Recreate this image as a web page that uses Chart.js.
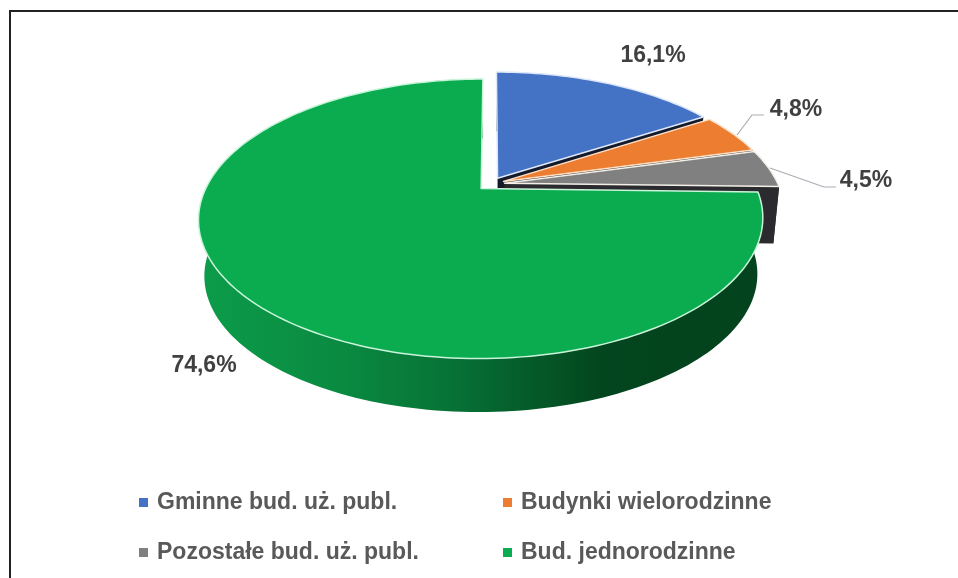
<!DOCTYPE html>
<html lang="pl">
<head>
<meta charset="utf-8">
<title>Struktura budynków</title>
<script src="https://cdn.jsdelivr.net/npm/chart.js@4/dist/chart.umd.min.js"></script>
<style>
    html, body { margin: 0; padding: 0; background: #fff; overflow: hidden; }
    #wrap { position: relative; width: 958px; height: 578px; }
    #frame { position: absolute; left: 9px; top: 10px; right: 0; bottom: 0;
             border-top: 2px solid #222; border-left: 2px solid #222; }
    canvas { position: absolute; left: 0; top: 0; }
</style>
</head>
<body>
<div id="wrap">
    <div id="frame"></div>
    <canvas id="pie" width="958" height="578"></canvas>
</div>
<script>
const categories = ['Gminne bud. uż. publ.', 'Budynki wielorodzinne', 'Pozostałe bud. uż. publ.', 'Bud. jednorodzinne'];
const shares = [16.1, 4.8, 4.5, 74.6];
const topColors = ['#4472c4', '#ed7d31', '#808080', '#0bac4f'];
const wallColors = ['#141a2a', '#2a1a10', '#2b2a2e', '#0a8a42'];
const rimColors = ['#dfe8fa', '#fde3cc', '#f2efe8', '#c8f5da'];

// pixel placement of the percentage labels and their leader lines
const labelSpots = [[653, 56], [796, 110], [866, 181], [204, 366]];
const leaderLines = [null, [[737, 135], [752, 115], [764, 115]], [[770, 168], [824, 187], [836, 187]], null];

// perspective of the disc, relative to the radius given by Chart.js
const PERSP = -0.2145, SCALE_X = 1.519, SCALE_Y = 0.729;
const EXPLODE = 0.05, DEPTH = 57, BOTTOM_SCALE = 0.98;

function project(arc, u, v, lower) {
    const w = 1 + PERSP * v;
    const x = SCALE_X * arc.outerRadius * u / w;
    const y = SCALE_Y * arc.outerRadius * v / w;
    if (lower) {
        return [arc.x + x * BOTTOM_SCALE, arc.y + y * BOTTOM_SCALE + DEPTH];
    }
    return [arc.x + x, arc.y + y];
}

// point of a slice on the disc, pushed out along its middle angle
function slicePoint(arc, angle, radius, lower) {
    const mid = (arc.startAngle + arc.endAngle) / 2;
    const u = radius * Math.cos(angle) + EXPLODE * Math.cos(mid);
    const v = radius * Math.sin(angle) + EXPLODE * Math.sin(mid);
    return project(arc, u, v, lower);
}

function outline(ctx, pts) {
    ctx.beginPath();
    pts.forEach((p, i) => i ? ctx.lineTo(p[0], p[1]) : ctx.moveTo(p[0], p[1]));
    ctx.closePath();
}

function rimAngles(arc) {
    const list = [];
    const steps = Math.ceil((arc.endAngle - arc.startAngle) * 40);
    for (let i = 0; i <= steps; i++) {
        list.push(arc.startAngle + (arc.endAngle - arc.startAngle) * i / steps);
    }
    return list;
}

function greenWall(ctx) {
    const g = ctx.createLinearGradient(200, 0, 760, 0);
    g.addColorStop(0, '#0c9c4a');
    g.addColorStop(0.25, '#0a8a41');
    g.addColorStop(0.45, '#077236');
    g.addColorStop(0.72, '#03451e');
    g.addColorStop(1, '#03431d');
    return g;
}

const pie3d = {
    id: 'pie3d',
    beforeDatasetDraw(chart) {
        const ctx = chart.ctx;
        const arcs = chart.getDatasetMeta(0).data;
        ctx.save();
        arcs.forEach((arc, i) => {
            const angles = rimAngles(arc);
            const isBig = i === arcs.length - 1;
            // side wall: outer rim, then the cut face at the end of the slice
            const upper = angles.map(a => slicePoint(arc, a, 1, false));
            const lower = angles.map(a => slicePoint(arc, a, 1, true)).reverse();
            ctx.fillStyle = isBig ? greenWall(ctx) : wallColors[i];
            outline(ctx, upper.concat(lower));
            ctx.fill();
            if (!isBig) {
                const a = arc.endAngle;
                outline(ctx, [slicePoint(arc, a, 0, false), slicePoint(arc, a, 1, false),
                              slicePoint(arc, a, 1, true), slicePoint(arc, a, 0, true)]);
                ctx.fill();
            }
            // top face
            const face = [slicePoint(arc, 0, 0, false)].concat(upper);
            outline(ctx, face);
            ctx.fillStyle = topColors[i];
            ctx.fill();
            ctx.strokeStyle = rimColors[i];
            ctx.lineWidth = 1.5;
            ctx.lineJoin = 'round';
            ctx.stroke();
        });
        ctx.restore();
        return false;
    },
    afterDraw(chart) {
        const ctx = chart.ctx;
        ctx.save();
        ctx.strokeStyle = '#a9adb3';
        ctx.lineWidth = 1.2;
        leaderLines.forEach(line => {
            if (!line) return;
            ctx.beginPath();
            line.forEach((p, i) => i ? ctx.lineTo(p[0], p[1]) : ctx.moveTo(p[0], p[1]));
            ctx.stroke();
        });
        ctx.fillStyle = '#404040';
        ctx.font = 'bold 23px "Liberation Sans", Arial, sans-serif';
        ctx.textAlign = 'center';
        ctx.textBaseline = 'middle';
        shares.forEach((v, i) => {
            ctx.fillText(v.toFixed(1).replace('.', ',') + '%', labelSpots[i][0], labelSpots[i][1]);
        });

        // legend in two aligned columns, which the built-in legend cannot do
        const colX = [139, 503], rowY = [503, 553];
        ctx.font = 'bold 23px "Liberation Sans", Arial, sans-serif';
        ctx.textAlign = 'left';
        categories.forEach((name, i) => {
            const x = colX[i % 2], y = rowY[Math.floor(i / 2)];
            ctx.fillStyle = topColors[i];
            ctx.fillRect(x, y - 5, 9, 9);
            ctx.fillStyle = '#595959';
            ctx.fillText(name, x + 18, y);
        });
        ctx.restore();
    }
};

new Chart(document.getElementById('pie').getContext('2d'), {
    type: 'pie',
    data: {
        labels: categories,
        datasets: [{
            data: shares,
            backgroundColor: topColors,
            borderWidth: 0
        }]
    },
    options: {
        responsive: false,
        animation: false,
        layout: { padding: { left: 24, right: 0, top: 4, bottom: 214 } },
        plugins: {
            legend: { display: false },
            tooltip: { enabled: false }
        }
    },
    plugins: [pie3d]
});
</script>
</body>
</html>
